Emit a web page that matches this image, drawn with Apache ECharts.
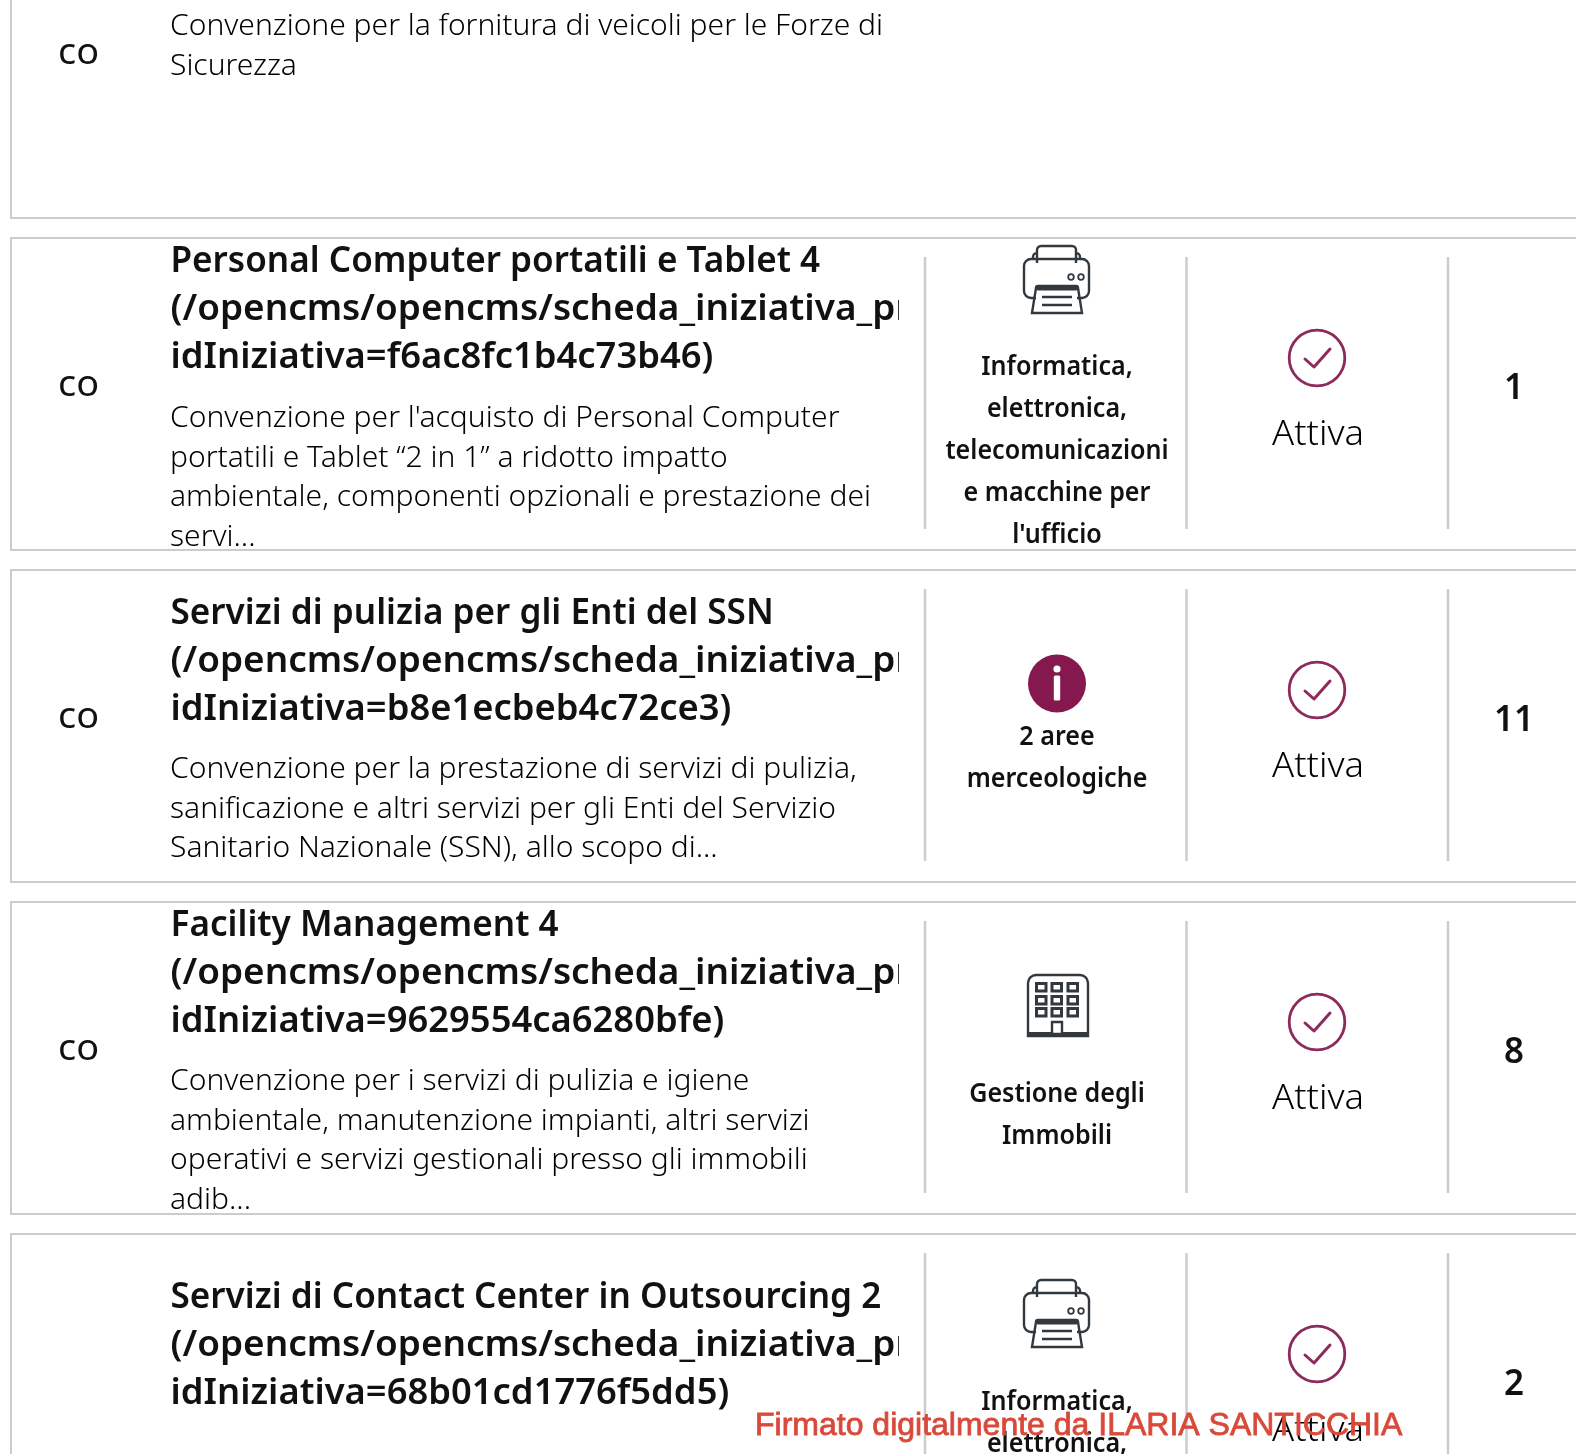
<!DOCTYPE html>
<html><head><meta charset="utf-8">
<style>html,body{margin:0;padding:0;background:#fff}#c{width:1576px;height:1454px}</style>
<script src="https://cdn.jsdelivr.net/npm/echarts@6/dist/echarts.min.js"></script>
</head><body><div id="c"></div>
<script>
// ---- content ----
const rowCodes = ['co','co','co','co',''];
const rowTitles = [
  [],
  ['Personal Computer portatili e Tablet 4','(/opencms/opencms/scheda_iniziativa_pr','idIniziativa=f6ac8fc1b4c73b46)'],
  ['Servizi di pulizia per gli Enti del SSN','(/opencms/opencms/scheda_iniziativa_pr','idIniziativa=b8e1ecbeb4c72ce3)'],
  ['Facility Management 4','(/opencms/opencms/scheda_iniziativa_pr','idIniziativa=9629554ca6280bfe)'],
  ['Servizi di Contact Center in Outsourcing 2','(/opencms/opencms/scheda_iniziativa_pr','idIniziativa=68b01cd1776f5dd5)']
];
const rowDescriptions = [
  ['Convenzione per la fornitura di veicoli per le Forze di','Sicurezza'],
  ['Convenzione per l\'acquisto di Personal Computer','portatili e Tablet “2 in 1” a ridotto impatto','ambientale, componenti opzionali e prestazione dei','servi...'],
  ['Convenzione per la prestazione di servizi di pulizia,','sanificazione e altri servizi per gli Enti del Servizio','Sanitario Nazionale (SSN), allo scopo di...'],
  ['Convenzione per i servizi di pulizia e igiene','ambientale, manutenzione impianti, altri servizi','operativi e servizi gestionali presso gli immobili','adib...'],
  []
];
const rowAreas = [
  [],
  ['Informatica,','elettronica,','telecomunicazioni','e macchine per','l\'ufficio'],
  ['2 aree','merceologiche'],
  ['Gestione degli','Immobili'],
  ['Informatica,','elettronica,']
];
const rowIcons = ['', 'printer', 'info', 'building', 'printer'];
const rowStates = ['', 'Attiva', 'Attiva', 'Attiva', 'Attiva'];
const rowCounts = ['', '1', '11', '8', '2'];
const watermarkText = 'Firmato digitalmente da ILARIA SANTICCHIA';

// ---- layout (page pixels) ----
const rowTops = [-94, 238, 570, 902, 1234];
const rowHeight = 312;
const titleStart = [0, 24, 43.5, 24, 63.5];
const descStart = [120.5, 180.5, 199.5, 179.5, 0];
const areaStart = [0, 129, 167, 192.5, 168];
const iconStart = [0, 7, 85, 72, 45];
const titlePitch = 48, descPitch = 39.6, areaPitch = 42;
const titleLineScale = [0.975, 1.025, 1.01];
const colCenterArea = 1057, colCenterState = 1318, colCenterCount = 1514;
const dividerXs = [925, 1186.5, 1448];
const textFont = '"Noto Sans"';
const inkDark = '#31393f', plum = '#85184f', ringPlum = '#8c2a5c', lineGrey = '#cccccc';

const printerPath = 'M14 18V5a4 4 0 0 1 4-4h31a4 4 0 0 1 4 4v13M14 14V8a4 4 0 0 0-4 4v2M53 14V8a4 4 0 0 1 4 4v2M10 14H8a7 7 0 0 0-7 7v25a7 7 0 0 0 7 7h5M54 53h5a7 7 0 0 0 7-7V21a7 7 0 0 0-7-7h-2M10 14h47M9 68l4-25a2 2 0 0 1 2-2h38a2 2 0 0 1 2 2l4 25zM19 52h30M19 60h30';
const buildingOuter = 'M1 62V9a8 8 0 0 1 8-8h44a8 8 0 0 1 8 8v53z';

function lineText(P, x, dy, text, fs, weight, align, scaleX, color) {
  const p = P(x, dy);
  return {type:'text', x:p[0], y:p[1], scaleX:scaleX, silent:true,
    style:{text:text, x:0, y:0, fontFamily:textFont, fontSize:fs, fontWeight:weight, fill:color||'#111', align:align||'left', verticalAlign:'middle'}};
}
function iconElements(name, P, off) {
  if (name === 'printer') {
    const p = P(1023, off);
    return [{type:'path', x:p[0], y:p[1], shape:{pathData:printerPath}, style:{fill:'none', stroke:inkDark, lineWidth:2.4}},
      {type:'rect', x:p[0], y:p[1], shape:{x:13,y:41,width:42,height:4.5,r:2}, style:{fill:inkDark}},
      {type:'circle', x:p[0], y:p[1], shape:{cx:48,cy:32,r:2.8}, style:{fill:'none',stroke:inkDark,lineWidth:1.8}},
      {type:'circle', x:p[0], y:p[1], shape:{cx:58,cy:32,r:2.8}, style:{fill:'none',stroke:inkDark,lineWidth:1.8}}];
  }
  if (name === 'info') {
    const p = P(colCenterArea, off);
    return [{type:'circle', x:p[0], y:p[1], shape:{cx:0,cy:28.5,r:29}, style:{fill:plum}},
      {type:'circle', x:p[0], y:p[1], shape:{cx:0,cy:14,r:3.6}, style:{fill:'#fff'}},
      {type:'rect', x:p[0], y:p[1], shape:{x:-3.2,y:20.5,width:6.4,height:25,r:1.5}, style:{fill:'#fff'}}];
  }
  if (name === 'building') {
    const p = P(1027, off);
    const out = [{type:'path', x:p[0], y:p[1], shape:{pathData:buildingOuter}, style:{fill:'none', stroke:inkDark, lineWidth:2.4}}];
    [9.5,25,41].forEach(wx => [9.5,22.5,34.5].forEach(wy => out.push({type:'rect', x:p[0], y:p[1], shape:{x:wx,y:wy,width:9.5,height:7.5}, style:{fill:'none',stroke:inkDark,lineWidth:3}})));
    out.push({type:'rect', x:p[0], y:p[1], shape:{x:0,y:58,width:62,height:5}, style:{fill:inkDark}});
    out.push({type:'rect', x:p[0], y:p[1], shape:{x:25,y:48,width:10,height:12}, style:{fill:'#fff',stroke:inkDark,lineWidth:2.4}});
    return out;
  }
  return [];
}
function renderRow(params, api) {
  const i = params.dataIndex;
  const top = api.value(0);
  const P = (x, dy) => api.coord([x, top + dy]);
  const els = [];
  const a = P(11, 0), b = P(1600, rowHeight);
  els.push({type:'polyline', shape:{points:[[b[0],a[1]],[a[0],a[1]],[a[0],b[1]],[b[0],b[1]]]}, style:{fill:'none', stroke:lineGrey, lineWidth:2}});
  if (rowCodes[i]) els.push(lineText(P, 58, 148, rowCodes[i], 36, 400, 'left', 1.05));
  const clipO = P(0, 0);
  const titleEls = rowTitles[i].map((t, k) => lineText(P, 170.5, titleStart[i] + k * titlePitch, t, 36, 600, 'left', titleLineScale[k]));
  els.push({type:'group', children:titleEls, clipPath:{type:'rect', shape:{x:0, y:clipO[1]-20, width:899, height:360}}});
  rowDescriptions[i].forEach((t, k) => els.push(lineText(P, 170, descStart[i] + k * descPitch, t, 30, 300, 'left', 1.0, '#000')));
  if (rowStates[i]) {
    dividerXs.forEach(x => {
      const u = P(x, 19), v = P(x, 291);
      els.push({type:'line', shape:{x1:u[0],y1:u[1],x2:v[0],y2:v[1]}, style:{stroke:lineGrey, lineWidth:2.5}});
    });
    iconElements(rowIcons[i], P, iconStart[i]).forEach(e => els.push(e));
    rowAreas[i].forEach((t, k) => els.push(lineText(P, colCenterArea, areaStart[i] + k * areaPitch, t, 27, 600, 'center', 0.93)));
    const c = P(1317, 120);
    els.push({type:'circle', x:c[0], y:c[1], shape:{cx:0,cy:0,r:27.8}, style:{fill:'none',stroke:ringPlum,lineWidth:2.8}});
    els.push({type:'polyline', x:c[0], y:c[1], shape:{points:[[-12,1],[-3,9],[13,-9]]}, style:{fill:'none',stroke:ringPlum,lineWidth:3,lineCap:'round',lineJoin:'round'}});
    els.push(lineText(P, colCenterState, 197, rowStates[i], 34, 300, 'center', 1.07, '#000'));
    els.push(lineText(P, colCenterCount, 151, rowCounts[i], 36, 600, 'center', 0.97));
  }
  return {type:'group', children:els};
}
const chart = echarts.init(document.getElementById('c'), null, {renderer:'canvas'});
chart.setOption({
  animation:false,
  backgroundColor:'#fff',
  grid:{left:0,right:0,top:0,bottom:0},
  xAxis:{type:'value',min:0,max:1576,show:false},
  yAxis:{type:'value',min:0,max:1454,inverse:true,show:false},
  series:[{type:'custom', coordinateSystem:'cartesian2d', clip:false, encode:{y:0}, data:rowTops.map(v=>[v]), renderItem:renderRow}],
  graphic:[{type:'text', x:755, y:1426, z:100, style:{text:watermarkText, fontFamily:'Liberation Sans', fontSize:32, fill:'#d9493a', stroke:'#d9493a', lineWidth:0.8, align:'left', verticalAlign:'middle'}}]
});
</script></body></html>
